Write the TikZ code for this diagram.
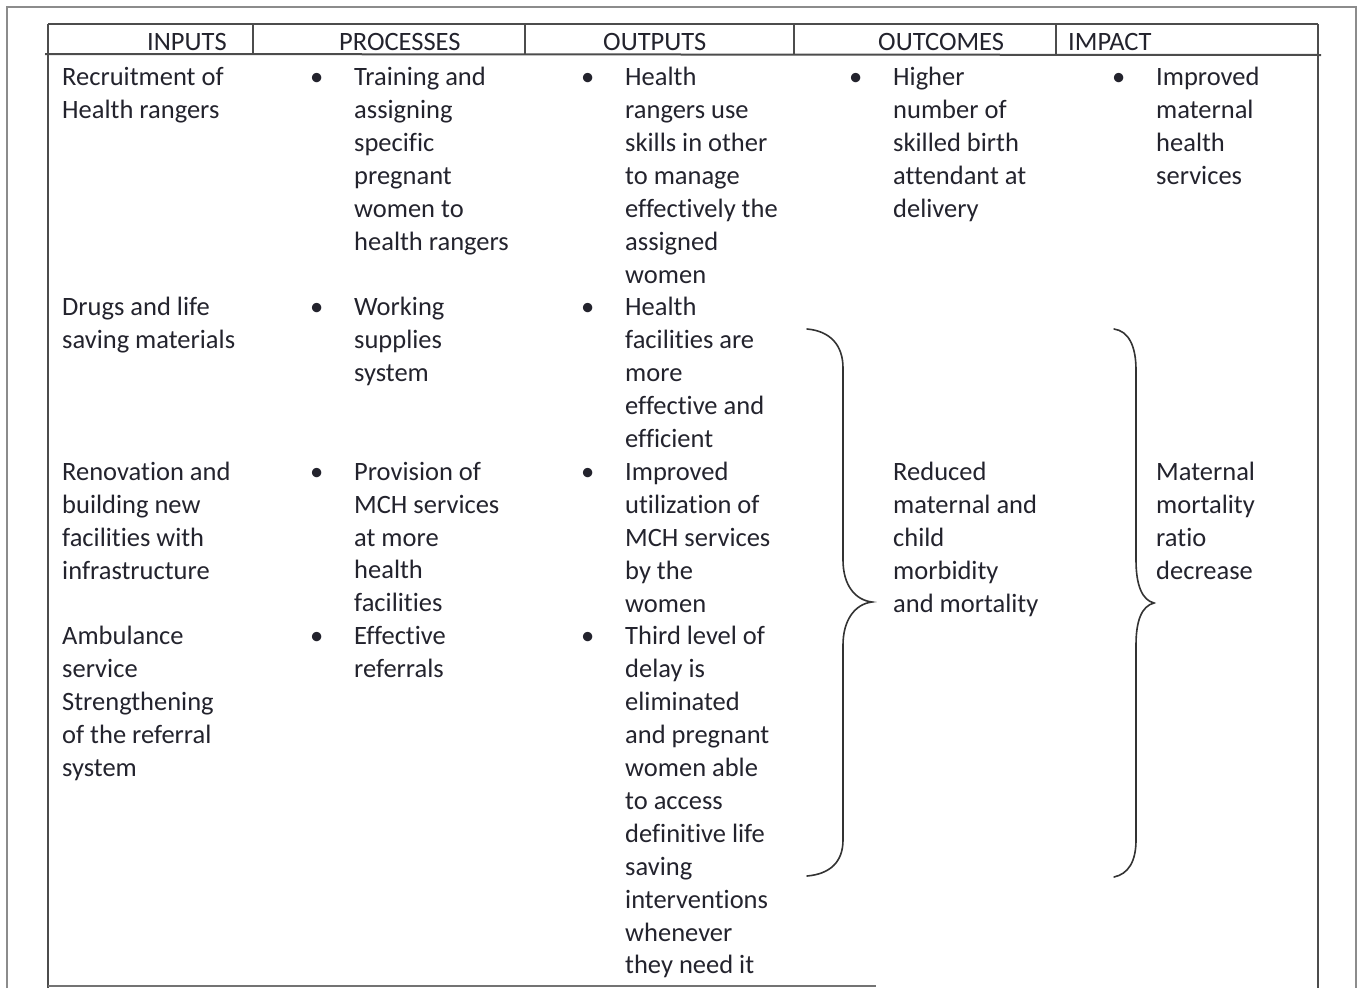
\documentclass[tikz,border=0pt]{standalone}
\usepackage{fontspec}
\setmainfont[Ligatures=NoCommon]{Carlito}
\usepackage{tikz}
\definecolor{ink}{RGB}{35,35,45}
\newcommand{\cellfont}{\fontsize{26.5}{32.9}\selectfont}
\newcommand{\bul}{\llap{\textbullet\hspace{31pt}}}
\tikzset{
  cell/.style={anchor=north west, inner sep=0pt, align=left, font=\cellfont, text=ink, execute at begin node=\strut},
  head/.style={anchor=base west, inner sep=0pt, font=\cellfont, text=ink},
  rule/.style={draw=black!70, line width=1.5pt},
  frame/.style={draw=black!45, line width=1.2pt},
  brace/.style={draw=black!80, line width=1.6pt, line cap=round},
}

\begin{document}
\begin{tikzpicture}[x=1pt, y=-1pt]
\useasboundingbox (0,0) rectangle (1357,988);

%Frame and table
\draw[frame] (7,988) -- (7,7) -- (1356,7) -- (1356,988);
\draw[rule] (48,24) -- (1318,24);
\draw[rule] (48,24) -- (48,988);
\draw[rule] (1318,24) -- (1318,988);
\draw[rule, line width=2pt] (45,54) -- (1321,55);
\draw[rule] (253,24) -- (253,55);
\draw[rule] (525,24) -- (525,55);
\draw[rule] (794,24) -- (794,55);
\draw[rule] (1056,24) -- (1056,55);
\draw[draw=black!55, line width=1.8pt] (48,986) -- (876,986);

%Headers
\node[head] (hin) at (147,50) {INPUTS};
\node[head] (hproc) at (339,50) {PROCESSES};
\node[head] (hout) at (603,50) {OUTPUTS};
\node[head] (hoc) at (878,50) {OUTCOMES};
\node[head] (himp) at (1068,50) {IMPACT};

%Inputs
\node[cell] (in1) at (62,67) {Recruitment of\\Health rangers};
\node[cell] (in2) at (62,297.3) {Drugs and life\\saving materials};
\node[cell] (in3) at (62,461.8) {Renovation and\\building new\\facilities with\\infrastructure};
\node[cell] (in4) at (62,626.3) {Ambulance\\service\\Strengthening\\of the referral\\system};

%Processes
\node[cell] (proc1) at (354,67) {\bul Training and\\assigning\\specific\\pregnant\\women to\\health rangers};
\node[cell] (proc2) at (354,297.3) {\bul Working\\supplies\\system};
\node[cell] (proc3) at (354,461.8) {\bul Provision of\\MCH services\\at more\\health\\facilities};
\node[cell] (proc4) at (354,626.3) {\bul Effective\\referrals};

%Outputs
\node[cell] (out1) at (625,67) {\bul Health\\rangers use\\skills in other\\to manage\\effectively the\\assigned\\women};
\node[cell] (out2) at (625,297.3) {\bul Health\\facilities are\\more\\effective and\\efficient};
\node[cell] (out3) at (625,461.8) {\bul Improved\\utilization of\\MCH services\\by the\\women};
\node[cell] (out4) at (625,626.3) {\bul Third level of\\delay is\\eliminated\\and pregnant\\women able\\to access\\definitive life\\saving\\interventions\\whenever\\they need it};

%Outcomes and impact
\node[cell] (oc1) at (893,67) {\bul Higher\\number of\\skilled birth\\attendant at\\delivery};
\node[cell] (oc2) at (893,461.8) {Reduced\\maternal and\\child\\morbidity\\and mortality};
\node[cell] (imp1) at (1156,67) {\bul Improved\\maternal\\health\\services};
\node[cell] (imp2) at (1156,461.8) {Maternal\\mortality\\ratio\\decrease};

%Braces
\draw[brace] (807,329) .. controls (830,331) and (843,345) .. (843,368) -- (843,560)
  .. controls (843,585) and (855,600) .. (872,602)
  .. controls (855,604) and (843,620) .. (843,645) -- (843,840)
  .. controls (843,862) and (830,874) .. (807,876);
\draw[brace] (1114,329) .. controls (1128,331) and (1136,345) .. (1136,370) -- (1136,560)
  .. controls (1136,585) and (1142,600) .. (1154,603)
  .. controls (1142,606) and (1136,620) .. (1136,645) -- (1136,840)
  .. controls (1136,862) and (1128,874) .. (1114,877);
\end{tikzpicture}
\end{document}
